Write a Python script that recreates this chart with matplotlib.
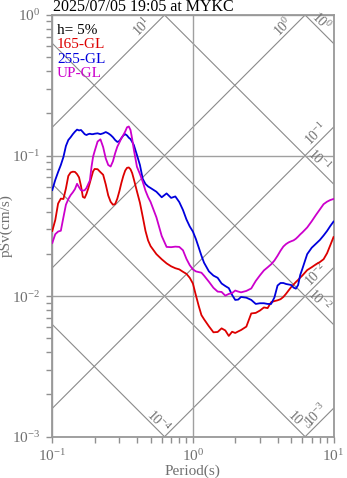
import numpy as np
import matplotlib
matplotlib.use('Agg')
import matplotlib.pyplot as plt
from matplotlib.ticker import LogLocator, NullFormatter

plt.rcParams['font.family'] = ['Liberation Serif', 'DejaVu Serif']
plt.rcParams['mathtext.fontset'] = 'custom'
plt.rcParams['mathtext.rm'] = 'Liberation Serif'
plt.rcParams['mathtext.it'] = 'Liberation Serif:italic'
plt.rcParams['mathtext.default'] = 'rm'

# Pseudo velocity response spectra (h = 5%), periods in s, pSv in cm/s
period = [0.100, 0.105, 0.110, 0.115, 0.120, 0.125, 0.130, 0.135, 0.140, 0.145,
          0.150, 0.155, 0.160, 0.165, 0.170, 0.175, 0.180, 0.185, 0.190, 0.195,
          0.20, 0.21, 0.22, 0.23, 0.24, 0.25, 0.26, 0.27, 0.28, 0.29,
          0.30, 0.31, 0.32, 0.33, 0.34, 0.35, 0.36, 0.37, 0.38, 0.40,
          0.42, 0.44, 0.46, 0.48, 0.50, 0.55, 0.60, 0.65, 0.70, 0.75,
          0.80, 0.85, 0.90, 0.95, 1.00, 1.05, 1.10, 1.15, 1.20, 1.30,
          1.40, 1.50, 1.60, 1.70, 1.80, 1.90, 2.00, 2.10, 2.20, 2.40,
          2.60, 2.80, 3.00, 3.20, 3.40, 3.60, 3.80, 4.00, 4.20, 4.40,
          4.60, 4.80, 5.00, 5.20, 5.40, 5.60, 5.80, 6.00, 6.50, 7.00,
          7.50, 8.00, 8.50, 9.00, 9.50, 10.0]

sv_165 = [0.0291, 0.0348, 0.0456, 0.0494, 0.0491, 0.0583, 0.0716, 0.0758, 0.0768, 0.0765,
          0.0738, 0.0699, 0.0608, 0.0508, 0.0500, 0.0534, 0.0582, 0.0641, 0.0705, 0.0772,
          0.0803, 0.0800, 0.0762, 0.0730, 0.0623, 0.0520, 0.0469, 0.0447, 0.0452, 0.0494,
          0.0558, 0.0639, 0.0716, 0.0782, 0.0818, 0.0823, 0.0799, 0.0750, 0.0680, 0.0556,
          0.0462, 0.0366, 0.0291, 0.0249, 0.0227, 0.0199, 0.0183, 0.0171, 0.0163, 0.0158,
          0.0155, 0.0149, 0.0144, 0.0135, 0.0123, 0.01015, 0.00852, 0.00733, 0.00685, 0.0061,
          0.00553, 0.00556, 0.0059, 0.0057, 0.00521, 0.00558, 0.00547, 0.00561, 0.00574, 0.00607,
          0.00753, 0.0076, 0.0079, 0.00831, 0.00822, 0.00905, 0.00922, 0.00934, 0.00951, 0.00987,
          0.0104, 0.0110, 0.0116, 0.0121, 0.0126, 0.01304, 0.01355, 0.0140, 0.01532, 0.01606,
          0.01684, 0.01748, 0.01831, 0.0202, 0.0231, 0.0263]

sv_255 = [0.0569, 0.0671, 0.0764, 0.0857, 0.0977, 0.117, 0.129, 0.135, 0.142, 0.148,
          0.153, 0.151, 0.152, 0.147, 0.142, 0.140, 0.142, 0.143, 0.142, 0.142,
          0.143, 0.144, 0.142, 0.144, 0.147, 0.144, 0.140, 0.135, 0.129, 0.125,
          0.127, 0.133, 0.139, 0.142, 0.139, 0.134, 0.131, 0.125, 0.119, 0.101,
          0.0857, 0.0682, 0.0628, 0.0603, 0.0588, 0.0553, 0.0505, 0.0538, 0.0500, 0.0512,
          0.0467, 0.0410, 0.0351, 0.0313, 0.0288, 0.0255, 0.0222, 0.0194, 0.0173, 0.0150,
          0.0140, 0.0135, 0.0123, 0.0118, 0.0114, 0.0102, 0.0094, 0.00945, 0.00987, 0.00975,
          0.0094, 0.0088, 0.0089, 0.0089, 0.0088, 0.0088, 0.00979, 0.0119, 0.0124, 0.0124,
          0.0122, 0.0121, 0.0120, 0.0115, 0.0113, 0.0120, 0.01416, 0.0156, 0.0199, 0.0221,
          0.0236, 0.0251, 0.0270, 0.0291, 0.0316, 0.0339]

sv_up = [0.0239, 0.0276, 0.0288, 0.0292, 0.0364, 0.0447, 0.0490, 0.0523, 0.0548, 0.0578,
         0.0630, 0.0595, 0.0567, 0.0563, 0.0567, 0.0588, 0.0626, 0.0664, 0.0829, 0.0981,
         0.1073, 0.1259, 0.1305, 0.1148, 0.0954, 0.0857, 0.0836, 0.0911, 0.1040, 0.1156,
         0.1238, 0.1329, 0.1398, 0.1483, 0.1589, 0.1610, 0.152, 0.1311, 0.1105, 0.0832,
         0.0739, 0.0650, 0.0563, 0.0507, 0.0468, 0.0364, 0.0268, 0.0224, 0.0223, 0.0225,
         0.0224, 0.0212, 0.0184, 0.0166, 0.0155, 0.0150, 0.01483, 0.01468, 0.0140, 0.01266,
         0.01146, 0.01077, 0.01071, 0.01008, 0.01037, 0.01051, 0.01096, 0.01078, 0.01064, 0.01089,
         0.01134, 0.01283, 0.01407, 0.01524, 0.01603, 0.01684, 0.01792, 0.01938, 0.02106, 0.02254,
         0.02348, 0.02413, 0.02457, 0.02494, 0.0256, 0.0265, 0.0275, 0.02837, 0.0308, 0.0341,
         0.0378, 0.0414, 0.0451, 0.0470, 0.0483, 0.0491]

series_names = ['165-GL', '255-GL', 'UP-GL']
series_colors = ['#dd0000', '#0000dd', '#cc00cc']

# constant acceleration (cm/s^2) and displacement (cm) guide lines
accel_levels = [1e1, 1e0, 1e-1, 1e-2, 1e-3]
disp_levels = [1e0, 1e-1, 1e-2, 1e-3, 1e-4]
level_labels = {1e1: r'$10^{1}$', 1e0: r'$10^{0}$', 1e-1: r'$10^{-1}$',
                1e-2: r'$10^{-2}$', 1e-3: r'$10^{-3}$', 1e-4: r'$10^{-4}$'}

T_MIN, T_MAX = 0.1, 10.0
V_MIN, V_MAX = 1e-3, 1.0

grey = '#8a8a8a'
label_grey = '#707070'
r2 = np.sqrt(0.5)
perp = -1  # shift of the label box off the line, pixels

fig = plt.figure(figsize=(3.47, 4.78), dpi=100)
ax = fig.add_axes([0.1507, 0.0864, 0.8104, 0.8822])
ax.set_xscale('log')
ax.set_yscale('log')
ax.set_xlim(T_MIN, T_MAX)
ax.set_ylim(V_MIN, V_MAX)

ax.grid(True, which='major', color='#a0a0a0', lw=1.0, zorder=1)

t = np.logspace(-1, 1, 200)
two_pi = 2 * np.pi
for a in accel_levels:
    ax.plot(t, a * t / two_pi, color=grey, lw=0.8, zorder=1)
    # label sits just above the line where it leaves the top or right edge
    if a * T_MAX / two_pi <= V_MAX:
        xe, ye, back = T_MAX, a * T_MAX / two_pi, 4
    else:
        xe, ye, back = two_pi * V_MAX / a, V_MAX, 14
    off = (-(back + perp) * r2, (perp - back) * r2)
    ax.annotate(level_labels[a], xy=(xe, ye), xytext=off, textcoords='offset pixels',
                rotation=45, rotation_mode='anchor', ha='right', va='bottom',
                fontsize=10, color=label_grey, annotation_clip=False)

for d in disp_levels:
    ax.plot(t, two_pi * d / t, color=grey, lw=0.8, zorder=1)
    # label sits just above the line where it leaves the right or bottom edge
    if two_pi * d / T_MAX >= V_MIN:
        xe, ye, back = T_MAX, two_pi * d / T_MAX, 14
    else:
        xe, ye, back = two_pi * d / V_MIN, V_MIN, 2
    off = ((perp - back) * r2, (back + perp) * r2)
    ax.annotate(level_labels[d], xy=(xe, ye), xytext=off, textcoords='offset pixels',
                rotation=-45, rotation_mode='anchor', ha='right', va='bottom',
                fontsize=10, color=label_grey, annotation_clip=False)

for sv, name, col in zip([sv_165, sv_255, sv_up], series_names, series_colors):
    ax.plot(period, sv, color=col, lw=1.3, zorder=3)

# legend block as coloured text lines
ax.text(0.017, 0.964, 'h= 5%', transform=ax.transAxes, fontsize=11, va='center', color='black')
for i, (name, col) in enumerate(zip(series_names, series_colors)):
    ax.text(0.017, 0.930 - 0.0345 * i, name, transform=ax.transAxes,
            fontsize=11, va='center', color=col)

ax.xaxis.set_major_locator(LogLocator(base=10, numticks=10))
ax.yaxis.set_major_locator(LogLocator(base=10, numticks=10))
ax.xaxis.set_minor_locator(LogLocator(base=10, subs=np.arange(2, 10), numticks=10))
ax.yaxis.set_minor_locator(LogLocator(base=10, subs=np.arange(2, 10), numticks=10))
ax.xaxis.set_minor_formatter(NullFormatter())
ax.yaxis.set_minor_formatter(NullFormatter())
ax.tick_params(which='both', direction='out', length=4, width=1, color='#909090',
               labelcolor=label_grey, labelsize=11)
ax.tick_params(axis='x', pad=4)
ax.tick_params(axis='y', pad=5)

for s in ax.spines.values():
    s.set_color('#999999')
    s.set_linewidth(1.3)

ax.set_xlabel('Period(s)', fontsize=11, color=label_grey)
ax.set_ylabel('pSv(cm/s)', fontsize=11, color=label_grey)
ax.xaxis.set_label_coords(0.5, -0.066)
ax.yaxis.set_label_coords(-0.139, 0.5)

fig.text(53 / 347, 1 - 11 / 478, '2025/07/05 19:05 at MYKC', fontsize=11.5,
         ha='left', va='baseline', color='black')

fig.savefig('out.png', dpi=100)
